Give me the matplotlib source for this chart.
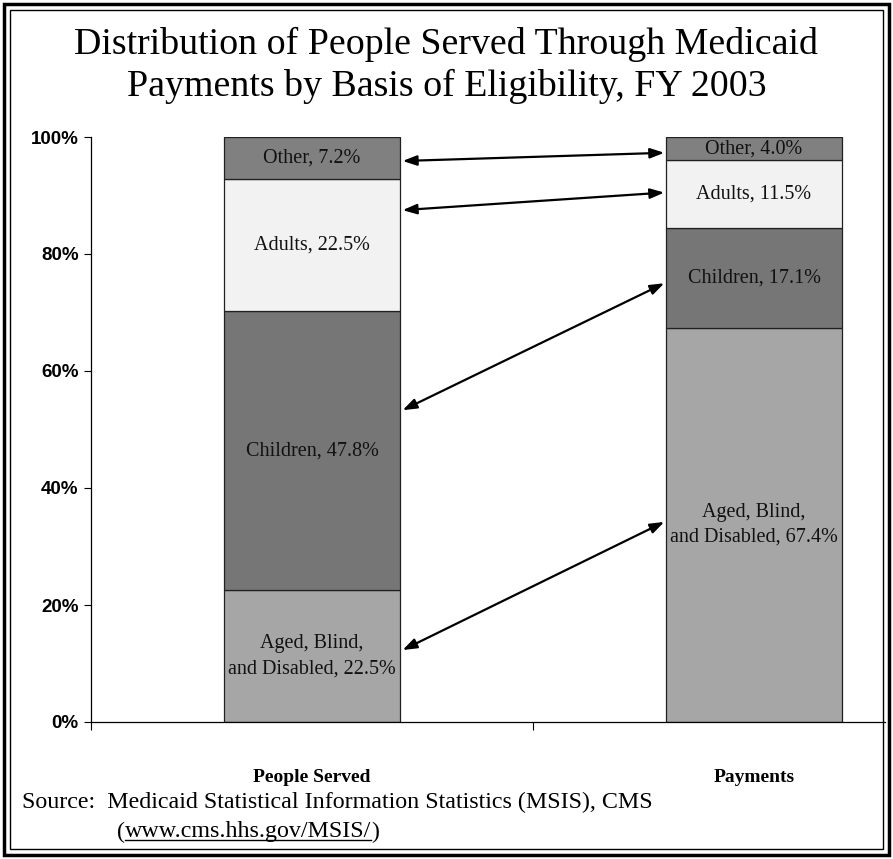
import matplotlib
matplotlib.use("Agg")
import matplotlib.pyplot as plt
from matplotlib.patches import Rectangle
from matplotlib.lines import Line2D

# data
groups = ["People Served", "Payments"]
segments = ["Aged, Blind,\nand Disabled", "Children", "Adults", "Other"]
served = [22.5, 47.8, 22.5, 7.2]
payments = [67.4, 17.1, 11.5, 4.0]
colors = ["#a6a6a6", "#767676", "#f2f2f2", "#808080"]
# arrow anchors (percent height on each bar)
arrow_left = [12.3, 53.3, 87.5, 95.9]
arrow_right = [34.2, 75.0, 90.5, 97.3]
yticks = [0, 20, 40, 60, 80, 100]

serif = "Liberation Serif"
sans = "Liberation Sans"

fig = plt.figure(figsize=(8.93, 8.59), dpi=100)
ax = fig.add_axes([91 / 893, 137 / 859, 794 / 893, 585 / 859])

width = 0.40
values = [served, payments]
for i, vals in enumerate(values):
    bottom = 0
    for j, v in enumerate(vals):
        ax.bar(i, v, width=width, bottom=bottom, color=colors[j],
               edgecolor="#202020", linewidth=0.9, zorder=2)
        label = "%s, %.1f%%" % (segments[j], v)
        ax.text(i, bottom + v / 2, label, ha="center", va="center",
                family=serif, fontsize=14.5, color="#111111",
                linespacing=1.45, zorder=3)
        bottom += v

for yl, yr in zip(arrow_left, arrow_right):
    ax.annotate("", xy=(1 - width / 2 - 0.003, yr), xytext=(width / 2 + 0.005, yl),
                arrowprops=dict(arrowstyle="<|-|>,head_length=0.7,head_width=0.25",
                                color="black", lw=1.6, shrinkA=0, shrinkB=0,
                                mutation_scale=12), zorder=4)

ax.set_yticks(yticks)
ax.set_yticklabels(["%d%%" % t for t in yticks], family=sans,
                   fontweight="bold", fontsize=13.5)
ax.tick_params(axis="y", direction="out", length=5, width=0.8, pad=4)

ax.set_xticks([-0.5, 0.5, 1.5])
ax.set_xticklabels([])
ax.set_xticks([0, 1], minor=True)
ax.set_xticklabels(groups, minor=True, family=serif, fontweight="bold",
                   fontsize=14)
ax.tick_params(axis="x", which="major", direction="out", length=6, width=0.8)
ax.tick_params(axis="x", which="minor", length=0, pad=34)
ax.set_xlim(-0.5, -0.5 + 794 / 442)
ax.set_ylim(0, 100)

for s in ["top", "right"]:
    ax.spines[s].set_visible(False)
for s in ["left", "bottom"]:
    ax.spines[s].set_linewidth(0.9)

# title
fig.text(0.5, 1 - 44 / 859, "Distribution of People Served Through Medicaid",
         ha="center", va="center", family=serif, fontsize=27.3)
fig.text(0.5, 1 - 86 / 859, "Payments by Basis of Eligibility, FY 2003",
         ha="center", va="center", family=serif, fontsize=27.3)

# source
fs = 17.3
fig.text(22 / 893, 1 - 802 / 859,
         "Source:  Medicaid Statistical Information Statistics (MSIS), CMS",
         ha="left", va="center", family=serif, fontsize=fs)
fig.canvas.draw()
r = fig.canvas.get_renderer()
y2 = 1 - 832 / 859
t1 = fig.text(117 / 893, y2, "(", ha="left", va="center", family=serif, fontsize=fs)
b1 = t1.get_window_extent(r)
t2 = fig.text(b1.x1 / 893, y2, "www.cms.hhs.gov/MSIS/", ha="left", va="center",
              family=serif, fontsize=fs)
b2 = t2.get_window_extent(r)
fig.text(b2.x1 / 893, y2, ")", ha="left", va="center", family=serif, fontsize=fs)
uy = (b2.y0 + 3) / 859
fig.add_artist(Line2D([b2.x0 / 893, b2.x1 / 893], [uy, uy], color="black", lw=1.0))

# double frame
fig.add_artist(Rectangle((4 / 893, 4 / 859), 885 / 893, 851 / 859, fill=False,
                         edgecolor="black", lw=2.5, transform=fig.transFigure))
fig.add_artist(Rectangle((10 / 893, 10 / 859), 873 / 893, 839 / 859, fill=False,
                         edgecolor="black", lw=1.0, transform=fig.transFigure))

fig.savefig("out.png", dpi=100)
